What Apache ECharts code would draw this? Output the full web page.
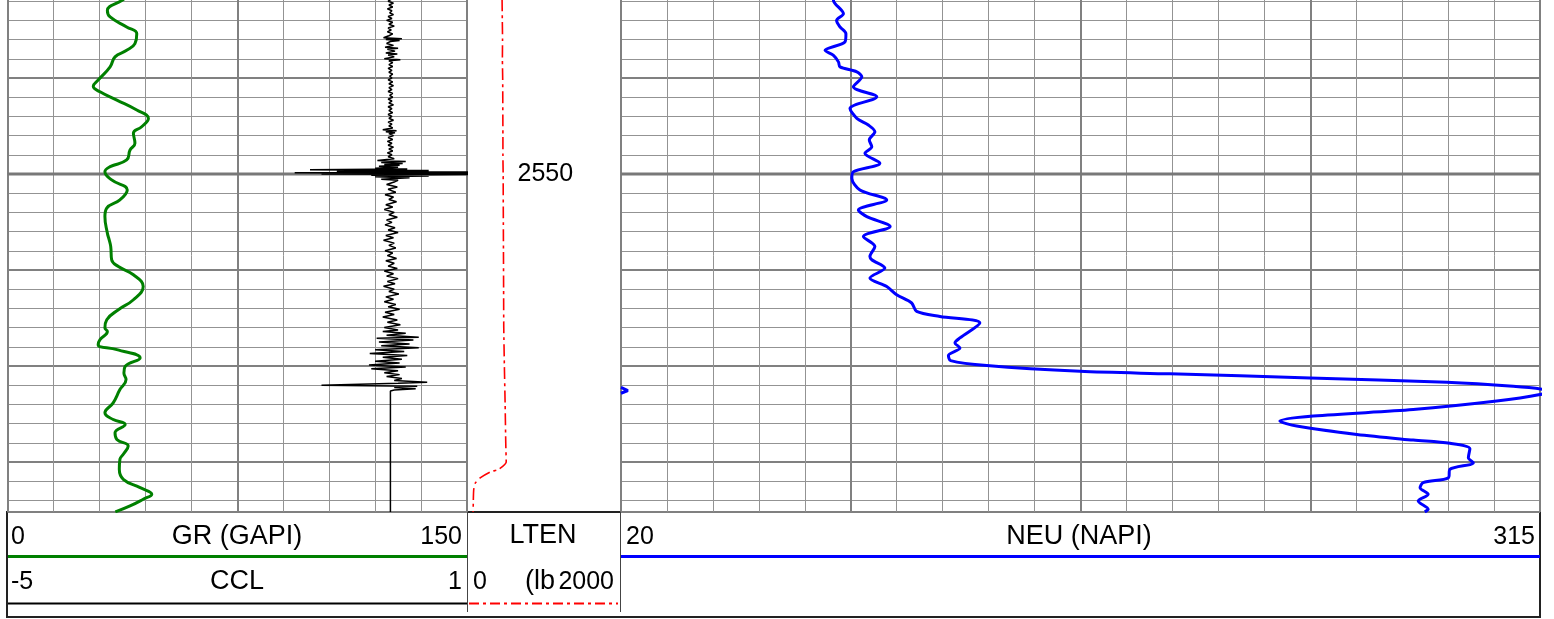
<!DOCTYPE html>
<html>
<head>
<meta charset="utf-8">
<title>Well log 2541-2567</title>
<script src="https://cdn.jsdelivr.net/npm/echarts@6/dist/echarts.min.js"></script>
<style>
  html, body { margin: 0; padding: 0; background: #fff; }
  #chart { width: 1554px; height: 619px; }
</style>
</head>
<body>
<div id="chart"></div>
<script>
// depth window (m) and the curve scales printed in the header
const DEPTH_TOP = 2540;
const DEPTH_BOTTOM = 2567.59;
const DEPTH_LABELS = [2550];
const GR_SCALE = [0, 150];
const CCL_SCALE = [-5, 1];
const LTEN_SCALE = [0, 2000];
const NEU_SCALE = [20, 315];

// curves as [depth, value]
const GR = [
  [2540.6, 40.5], [2540.96, 37.3], [2541.48, 32.6], [2541.82, 33.5], [2542.34, 38.9], [2542.69, 42.2],
  [2543.21, 41.6], [2543.56, 38.9], [2543.90, 35.1], [2544.42, 33.5], [2545.11, 29.6], [2545.43, 28.0],
  [2545.72, 30.2], [2546.15, 35.7], [2546.67, 42.2], [2547.11, 46.0], [2547.54, 43.8], [2547.88, 41.1],
  [2548.40, 41.6], [2548.75, 40.0], [2549.27, 38.9], [2549.62, 33.5], [2549.88, 31.8], [2550.31, 34.0],
  [2550.83, 39.1], [2551.35, 36.7], [2551.78, 32.4], [2552.22, 31.8], [2553.08, 32.6], [2553.43, 33.2],
  [2553.78, 33.7], [2554.47, 34.0], [2554.82, 36.2], [2555.25, 41.1], [2555.86, 44.3], [2556.55, 41.1],
  [2557.07, 36.2], [2557.59, 32.4], [2558.02, 31.8], [2558.20, 32.6], [2558.63, 30.2], [2558.89, 29.6],
  [2559.15, 35.7], [2559.58, 43.3], [2560.02, 38.4], [2560.36, 38.0], [2560.71, 38.7], [2561.23, 36.7],
  [2561.92, 34.5], [2562.44, 31.8], [2562.79, 34.5], [2563.05, 38.4], [2563.48, 35.1], [2563.83, 35.7],
  [2564.17, 39.4], [2564.60, 37.8], [2564.86, 36.7], [2565.38, 36.5], [2565.90, 37.8], [2566.34, 43.3],
  [2566.68, 47.1], [2566.94, 44.3], [2567.29, 40.0], [2567.60, 35.2]
];

const CCL = [
  [2540.9, 0.01], [2541.0, -0.03], [2541.1, 0.04], [2541.2, -0.02], [2541.3, 0.03], [2541.4, -0.04],
  [2541.5, 0.02], [2541.6, -0.01], [2541.7, 0.04], [2541.8, -0.03], [2541.9, 0.02], [2542.0, -0.05],
  [2542.1, 0.03], [2542.2, -0.02], [2542.3, 0.05], [2542.4, -0.03], [2542.5, 0.01], [2542.6, -0.04],
  [2542.7, 0.03], [2542.8, -0.02], [2542.9, -0.09], [2542.95, 0.15], [2543.0, -0.06], [2543.05, 0.12],
  [2543.1, 0.0], [2543.2, -0.05], [2543.3, 0.04], [2543.4, -0.07], [2543.45, 0.1], [2543.5, -0.04],
  [2543.6, 0.06], [2543.7, -0.06], [2543.75, 0.09], [2543.8, -0.03], [2543.9, 0.05], [2544.0, -0.08],
  [2544.05, 0.13], [2544.1, -0.02], [2544.2, 0.03], [2544.3, -0.02], [2544.4, 0.03], [2544.5, -0.03],
  [2544.6, 0.02], [2544.7, -0.02], [2544.8, 0.03], [2544.9, -0.01], [2545.0, 0.02], [2545.1, -0.03],
  [2545.2, 0.03], [2545.3, -0.02], [2545.4, 0.04], [2545.5, -0.02], [2545.6, 0.02], [2545.7, -0.03],
  [2545.8, 0.03], [2545.9, -0.01], [2546.0, 0.03], [2546.1, -0.03], [2546.2, 0.02], [2546.3, -0.02],
  [2546.4, 0.04], [2546.5, -0.03], [2546.6, 0.02], [2546.7, -0.02], [2546.8, 0.03], [2546.9, -0.03],
  [2547.0, 0.02], [2547.1, -0.02], [2547.2, 0.04], [2547.3, -0.03], [2547.4, 0.02], [2547.5, -0.02],
  [2547.6, 0.03], [2547.7, -0.1], [2547.75, 0.08], [2547.8, -0.06], [2547.85, 0.06], [2547.9, -0.02],
  [2548.0, 0.04], [2548.1, -0.03], [2548.2, 0.03], [2548.3, -0.04], [2548.4, 0.02], [2548.5, -0.03],
  [2548.6, 0.04], [2548.7, -0.02], [2548.8, 0.03], [2548.9, -0.04], [2549.0, 0.02], [2549.1, -0.03],
  [2549.2, 0.05], [2549.3, -0.17], [2549.35, 0.2], [2549.4, -0.12], [2549.45, 0.16], [2549.5, -0.08],
  [2549.55, 0.12], [2549.6, -0.15], [2549.65, 0.1], [2549.7, -0.2], [2549.74, 0.22], [2549.78, -1.05],
  [2549.82, 0.5], [2549.86, -0.7], [2549.9, 1.25], [2549.93, -1.25], [2549.96, 1.25], [2550.0, -0.9],
  [2550.03, 1.1], [2550.07, -0.25], [2550.11, 0.5], [2550.15, -0.2], [2550.2, 0.25], [2550.27, -0.12],
  [2550.33, 0.1], [2550.4, 0.06], [2550.55, -0.05], [2550.68, 0.09], [2550.8, -0.03], [2550.95, 0.07],
  [2551.08, -0.07], [2551.2, 0.04], [2551.33, -0.02], [2551.45, 0.08], [2551.6, -0.06], [2551.72, 0.03],
  [2551.85, -0.08], [2552.0, 0.05], [2552.12, -0.02], [2552.25, 0.09], [2552.4, -0.05], [2552.52, 0.02],
  [2552.65, -0.07], [2552.8, 0.06], [2552.92, -0.03], [2553.05, 0.1], [2553.2, -0.06], [2553.32, 0.04],
  [2553.45, -0.09], [2553.6, 0.05], [2553.72, -0.02], [2553.85, 0.07], [2554.0, -0.07], [2554.12, 0.03],
  [2554.25, -0.04], [2554.4, 0.08], [2554.52, -0.06], [2554.65, 0.05], [2554.8, -0.03], [2554.92, 0.09],
  [2555.05, -0.08], [2555.2, 0.04], [2555.32, -0.05], [2555.45, 0.1], [2555.6, -0.04], [2555.72, 0.06],
  [2555.85, -0.09], [2556.0, 0.05], [2556.12, -0.02], [2556.25, 0.11], [2556.4, -0.06], [2556.52, 0.04],
  [2556.65, -0.08], [2556.8, 0.07], [2556.92, -0.03], [2557.05, 0.12], [2557.2, -0.07], [2557.32, 0.05],
  [2557.45, -0.1], [2557.6, 0.09], [2557.72, -0.04], [2557.85, 0.13], [2558.0, -0.08], [2558.12, 0.1],
  [2558.2, -0.1], [2558.3, 0.2],
  [2558.4, -0.05], [2558.5, 0.37], [2558.55, -0.18], [2558.65, 0.3], [2558.75, -0.15], [2558.85, 0.25],
  [2558.95, -0.12], [2559.05, 0.37], [2559.15, -0.2], [2559.25, 0.18], [2559.35, -0.27], [2559.45, 0.22],
  [2559.55, -0.1], [2559.65, 0.15], [2559.75, -0.2], [2559.85, 0.12], [2559.95, -0.28], [2560.05, 0.2],
  [2560.15, -0.25], [2560.25, 0.1], [2560.35, -0.08], [2560.45, 0.12], [2560.55, -0.05], [2560.65, 0.15],
  [2560.75, 0.05], [2560.85, 0.48], [2560.9, 0.1], [2561.0, -0.9], [2561.05, 0.35], [2561.12, 0.05],
  [2561.18, 0.33], [2561.25, 0.05], [2561.3, 0.0], [2567.6, 0.0]
];

const LTEN = [
  [2540.9, 452], [2542.0, 455], [2543.0, 458], [2544.0, 456], [2545.0, 460], [2546.0, 461],
  [2547.0, 462], [2548.0, 463], [2549.0, 463], [2550.0, 466], [2552.0, 468], [2554.0, 470],
  [2556.0, 472], [2558.0, 474], [2560.0, 482], [2562.0, 492], [2564.0, 500], [2565.0, 506],
  [2565.38, 409], [2565.52, 300], [2565.82, 170], [2566.08, 105], [2566.42, 82], [2567.0, 76],
  [2567.6, 74]
];

const NEU = [
  [2540.6, 90.0], [2540.96, 88.2], [2541.65, 91.4], [2542.0, 89.2], [2542.34, 90.3], [2542.69, 92.2],
  [2543.12, 91.9], [2543.56, 85.5], [2543.82, 88.2], [2544.16, 89.8], [2544.42, 90.3], [2544.68, 95.7],
  [2544.94, 97.3], [2545.46, 94.6], [2545.98, 102.1], [2546.59, 93.5], [2547.10, 95.7], [2547.45, 99.4],
  [2547.80, 101.5], [2548.23, 99.7], [2548.58, 100.5], [2548.92, 98.3], [2549.44, 103.1], [2549.88, 94.6],
  [2550.22, 94.1], [2550.83, 96.7], [2551.35, 105.3], [2551.87, 96.2], [2552.22, 98.9], [2552.74, 106.4],
  [2553.26, 97.8], [2553.78, 101.5], [2554.30, 99.9], [2554.47, 100.5], [2554.90, 104.7], [2555.42, 99.9],
  [2555.86, 105.3], [2556.29, 108.5], [2556.72, 113.3], [2557.16, 114.9], [2557.42, 122.4], [2557.76, 135.2],
  [2558.54, 128.8], [2558.80, 127.2], [2559.06, 128.8], [2559.45, 125.1], [2559.72, 125.8], [2559.98, 137.4],
  [2560.28, 167.3], [2560.41, 196.2], [2560.62, 241.2], [2560.85, 285.1], [2561.06, 306.4], [2561.23, 316.5],
  [2561.32, 317.2], [2561.49, 315.0], [2561.83, 301.1], [2562.27, 274.3], [2562.61, 242.2], [2562.87, 231.5],
  [2563.13, 236.9], [2563.57, 256.2], [2563.86, 274.3], [2564.03, 286.1], [2564.31, 292.5], [2564.78, 292.0],
  [2565.04, 293.6], [2565.38, 286.1], [2565.82, 285.6], [2566.08, 277.5], [2566.34, 276.5], [2566.68, 279.1],
  [2567.03, 275.9], [2567.46, 279.1], [2567.6, 278.0]
];

// part of NEU past 315 wraps back onto the left edge
const NEU_WRAP = [[2561.12, 20.0], [2561.28, 22.2], [2561.42, 20.0]];

// track geometry (pixels)
const GRID_TOP = -18;
const GRID_HEIGHT = 529.7;
const TRACK1 = { left: 7.5, width: 459.5 };
const DEPTH_TRACK = { left: 467.5, width: 153 };
const TRACK2 = { left: 621, width: 919 };

const MINOR = { color: '#939393', width: 1 };
const MAJOR = { color: '#808080', width: 2 };
const HEAVY = { color: '#787878', width: 3 };
const FONT = '"Liberation Sans", Arial, sans-serif';

const toXY = rows => rows.map(r => [r[1], r[0]]);

function makeGrid(t) {
  return { left: t.left, width: t.width, top: GRID_TOP, height: GRID_HEIGHT,
           containLabel: false, outerBoundsMode: 'none' };
}

function depthAxis(gridIndex, interval, line) {
  return {
    type: 'value', gridIndex, inverse: true, min: DEPTH_TOP, max: DEPTH_BOTTOM, interval,
    axisLine: { show: false }, axisTick: { show: false }, axisLabel: { show: false },
    splitLine: line ? { show: true, lineStyle: line } : { show: false }
  };
}

function scaleAxis(gridIndex, scale) {
  return { type: 'value', gridIndex, min: scale[0], max: scale[1], show: false };
}

function gridAxis(gridIndex, divisions, line) {
  return {
    type: 'value', gridIndex, min: 0, max: divisions, interval: 1,
    axisLine: { show: false }, axisTick: { show: false }, axisLabel: { show: false },
    splitLine: { show: true, lineStyle: line }
  };
}

function curve(name, rows, xIdx, yIdx, color, width, extra) {
  return Object.assign({
    name, type: 'line', xAxisIndex: xIdx, yAxisIndex: yIdx, data: toXY(rows),
    symbol: 'none', silent: true, z: 3,
    lineStyle: { color, width }
  }, extra || {});
}

// heavy depth line drawn as a series across the grid axis range
function heavyLine(xIdx, yIdx, divisions) {
  return DEPTH_LABELS.map(d => ({
    type: 'line', xAxisIndex: xIdx, yAxisIndex: yIdx, z: 1, symbol: 'none', silent: true,
    data: [[0, d], [divisions, d]], lineStyle: HEAVY
  }));
}

function text(str, x, y, align, size) {
  return { type: 'text', x, y, silent: true,
    style: { text: str, font: size + 'px ' + FONT, fill: '#000',
             align, verticalAlign: 'middle', textAlign: align, textVerticalAlign: 'middle' } };
}

function hline(x1, x2, y, stroke, lineWidth, lineDash) {
  return { type: 'line', silent: true, shape: { x1, y1: y, x2, y2: y },
           style: { stroke, lineWidth, lineDash: lineDash || null } };
}

function vline(x, y1, y2, stroke, lineWidth) {
  return { type: 'line', silent: true, shape: { x1: x, y1, x2: x, y2 },
           style: { stroke, lineWidth } };
}

const option = {
  animation: false,
  backgroundColor: '#ffffff',
  grid: [makeGrid(TRACK1), makeGrid(DEPTH_TRACK), makeGrid(TRACK2)],
  xAxis: [
    scaleAxis(0, GR_SCALE),      // 0
    scaleAxis(0, CCL_SCALE),     // 1
    gridAxis(0, 10, MINOR),      // 2
    gridAxis(0, 2, MAJOR),       // 3
    scaleAxis(1, LTEN_SCALE),    // 4
    scaleAxis(2, NEU_SCALE),     // 5
    gridAxis(2, 20, MINOR),      // 6
    gridAxis(2, 4, MAJOR)        // 7
  ],
  yAxis: [
    depthAxis(0, 1, MINOR),      // 0
    depthAxis(0, 5, MAJOR),      // 1
    Object.assign(depthAxis(1, 5, null), {
      axisLabel: {
        show: true, inside: true, margin: 50, color: '#000', fontSize: 25, fontFamily: FONT,
        padding: [4, 0, 0, 0],
        formatter: v => DEPTH_LABELS.includes(v) ? String(v) : ''
      }
    }),                          // 2
    depthAxis(2, 1, MINOR),      // 3
    depthAxis(2, 5, MAJOR)       // 4
  ],
  series: [
    ...heavyLine(2, 0, 10),
    ...heavyLine(6, 3, 20),
    curve('CCL', CCL, 1, 0, '#000000', 1.5),
    curve('GR', GR, 0, 0, '#008000', 3, { smooth: 0.45 }),
    curve('LTEN', LTEN, 4, 2, '#ff0000', 1.6, {
      smooth: 0.2,
      lineStyle: { color: '#ff0000', width: 1.6, type: [12, 4, 3, 4] }
    }),
    curve('NEU', NEU, 5, 3, '#0000ff', 3, { smooth: 0.3 }),
    curve('NEU wrap', NEU_WRAP, 5, 3, '#0000ff', 3)
  ],
  graphic: {
    elements: [
      { type: 'rect', silent: true, shape: { x: 7, y: 512, width: 1533, height: 105 },
        style: { fill: 'none', stroke: '#222', lineWidth: 2 } },
      vline(467.5, 512, 612, '#444', 1),
      vline(620.5, 512, 612, '#444', 1),
      hline(8, 467, 556.5, '#008000', 3),
      hline(621, 1540, 556.5, '#0000ff', 3),
      hline(8, 467, 603.5, '#000000', 2),
      hline(469, 618, 603.5, '#ff0000', 2, [10, 4, 3, 4]),
      text('0', 11, 537, 'left', 25),
      text('GR (GAPI)', 237, 537, 'center', 27),
      text('150', 462, 537, 'right', 25),
      text('-5', 11, 582, 'left', 25),
      text('CCL', 237, 582, 'center', 27),
      text('1', 462, 582, 'right', 25),
      text('LTEN', 543, 536, 'center', 27),
      text('0', 473, 582, 'left', 25),
      text('(lb', 525, 582, 'left', 27),
      text('2000', 614, 582, 'right', 25),
      text('20', 626, 537, 'left', 25),
      text('NEU (NAPI)', 1079, 537, 'center', 27),
      text('315', 1535, 537, 'right', 25)
    ]
  }
};

const chart = echarts.init(document.getElementById('chart'), null, { renderer: 'canvas' });
chart.setOption(option);
window.addEventListener('resize', chart.resize);
</script>
</body>
</html>
